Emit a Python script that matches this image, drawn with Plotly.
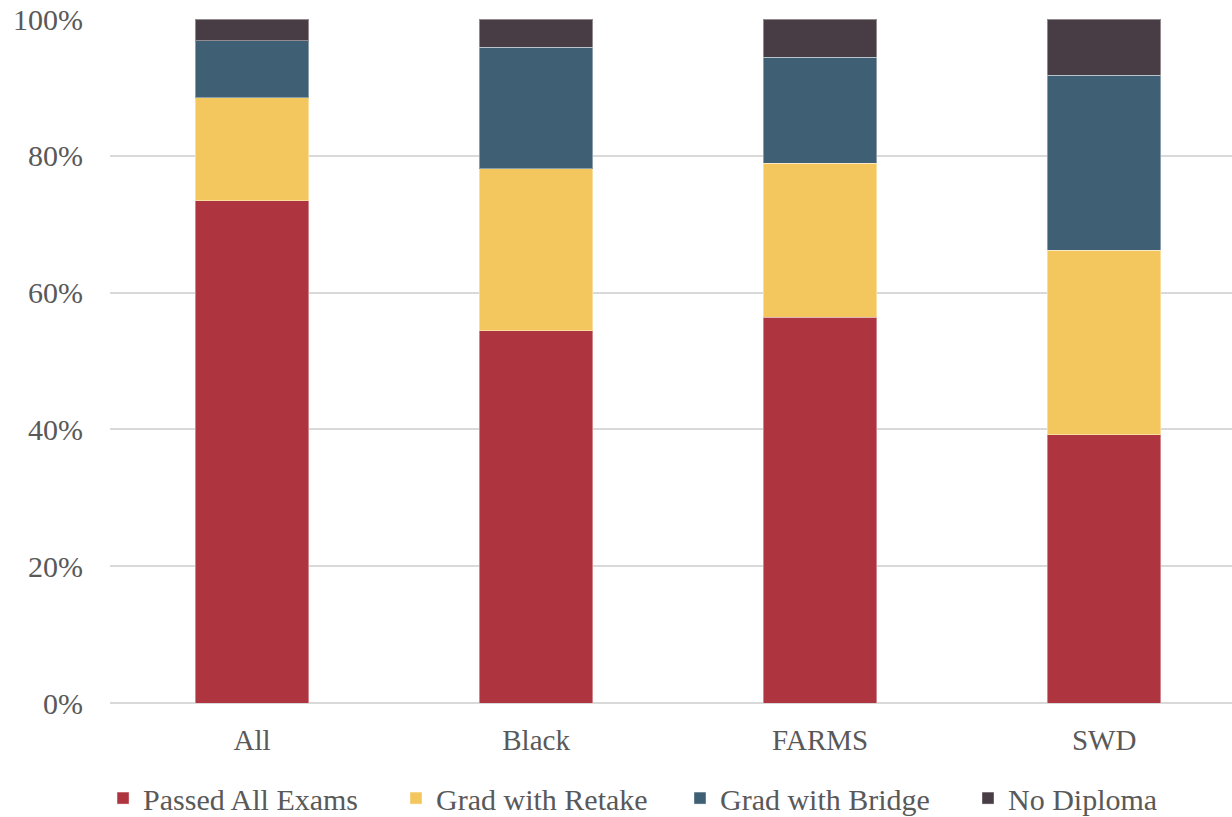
import plotly.graph_objects as go

categories = ["All", "Black", "FARMS", "SWD"]
passed_all = [73.4, 54.4, 56.4, 39.2]
grad_retake = [15.1, 23.7, 22.5, 27.0]
grad_bridge = [8.3, 17.8, 15.5, 25.6]
no_diploma = [3.2, 4.1, 5.6, 8.2]

series = [
    ("Passed All Exams", passed_all, "#AE353F"),
    ("Grad with Retake", grad_retake, "#F4C65E"),
    ("Grad with Bridge", grad_bridge, "#3F6074"),
    ("No Diploma", no_diploma, "#483C45"),
]
legend_ids = ["legend", "legend2", "legend3", "legend4"]
legend_x = [-0.0062, 0.2549, 0.5080, 0.7647]

font_family = "Liberation Serif"
fig = go.Figure()
for (name, vals, color), lid in zip(series, legend_ids):
    fig.add_trace(go.Bar(
        x=categories, y=vals, name=name, legend=lid,
        marker=dict(color=color, line=dict(color="rgba(255,255,255,0.4)", width=1)),
    ))

legend_common = dict(orientation="h", xanchor="left", y=-0.139, yanchor="middle",
                     font=dict(size=30, color="#595959"), bgcolor="rgba(0,0,0,0)")
layout_legends = {lid: dict(x=lx, **legend_common) for lid, lx in zip(legend_ids, legend_x)}

fig.update_layout(
    barmode="stack",
    bargap=0.6,
    width=1232, height=817,
    margin=dict(l=110, r=0, t=19, b=114, autoexpand=False),
    paper_bgcolor="white", plot_bgcolor="white",
    font=dict(family=font_family, size=29, color="#595959"),
    xaxis=dict(range=[-0.5, 3.45], showgrid=False, showline=False, ticks="",
               ticklabelstandoff=17,
               tickfont=dict(size=29, color="#595959")),
    yaxis=dict(range=[0, 100], dtick=20, ticksuffix="%", showgrid=True,
               gridcolor="#D9D9D9", gridwidth=2, zeroline=True, zerolinecolor="#D9D9D9",
               zerolinewidth=2, showline=False, ticks="", ticklabelstandoff=26,
               tickfont=dict(size=30, color="#595959")),
    showlegend=True,
    **layout_legends,
)
fig.write_html("out.html", config={"displayModeBar": False},
               post_script="document.body.style.margin='0';document.body.style.overflow='hidden';")
